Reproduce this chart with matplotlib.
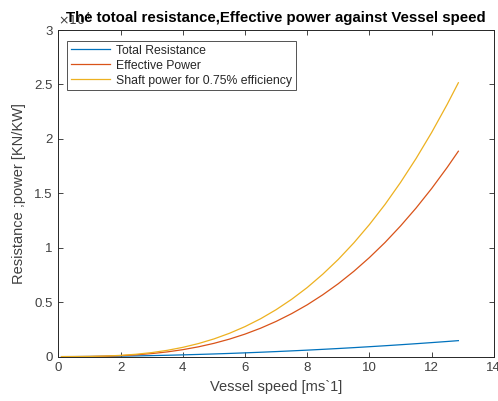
import matplotlib
matplotlib.use("Agg")
import matplotlib.pyplot as plt
from matplotlib.ticker import FuncFormatter, MultipleLocator

# Vessel speed [m/s]
speed = [0.1, 0.5, 1, 1.5, 2, 2.5, 3, 3.5, 4, 4.5, 5, 5.5, 6, 6.5, 7, 7.5,
         8, 8.5, 9, 9.5, 10, 10.5, 11, 11.5, 12, 12.5, 12.86]
# Total resistance [kN]
total_resistance = [0, 3, 12, 25, 43, 65, 92, 124, 160, 200, 244, 292, 345,
                    401, 462, 527, 595, 668, 744, 825, 910, 998, 1091, 1187,
                    1287, 1390, 1467]
# Effective power [kW]
effective_power = [0, 2, 12, 37, 86, 163, 277, 433, 638, 898, 1218, 1607,
                   2068, 2608, 3234, 3950, 4760, 5680, 6700, 7840, 9100,
                   10480, 12000, 13650, 15440, 17380, 18870]
# Shaft power for 0.75 efficiency [kW]
shaft_power = [0, 2, 15, 49, 114, 217, 369, 577, 851, 1197, 1624, 2143,
               2757, 3477, 4312, 5267, 6347, 7573, 8933, 10453, 12133,
               13973, 16000, 18200, 20587, 23173, 25160]

labels = ["Total Resistance", "Effective Power",
          "Shaft power for 0.75% efficiency"]
colors = ["#0072BD", "#D95319", "#EDB120"]

plt.rcParams["font.family"] = ["Liberation Sans", "DejaVu Sans"]
gray = "#262626"
tickgray = "#404040"

fig = plt.figure(figsize=(4.98, 4.01), dpi=100)
ax = fig.add_axes([0.1173, 0.1107, 0.8743, 0.8143])

for y, lab, c in zip([total_resistance, effective_power, shaft_power], labels, colors):
    ax.plot(speed, y, color=c, lw=0.9, label=lab)

ax.set_xlim(0, 14)
ax.set_ylim(0, 30000)
ax.xaxis.set_major_locator(MultipleLocator(2))
ax.yaxis.set_major_locator(MultipleLocator(5000))
ax.yaxis.set_major_formatter(FuncFormatter(lambda v, p: f"{v/1e4:g}"))
ax.tick_params(direction="in", length=3.5, width=0.6, colors=gray,
               labelcolor=tickgray, labelsize=9.5, top=True, right=True, pad=4)
for s in ax.spines.values():
    s.set_color(gray)
    s.set_linewidth(0.7)

ax.set_xlabel("Vessel speed [ms`1]", fontsize=10.5, color=tickgray, labelpad=4)
ax.set_ylabel("Resistance ;power [KN/KW]", fontsize=10.5, color=tickgray, labelpad=6)
ax.text(0.0, 1.006, r"$\times10^{4}$", transform=ax.transAxes, fontsize=9,
        color=tickgray, ha="left", va="bottom")
ax.set_title("The totoal resistance,Effective power against Vessel speed",
             fontsize=10.8, fontweight="bold", color="black", pad=5.5)

leg = ax.legend(loc="upper left", bbox_to_anchor=(0.0, 0.993), fontsize=8.8,
                frameon=True, fancybox=False,
                borderpad=0.3, labelspacing=0.25, handlelength=3.2,
                handletextpad=0.5, borderaxespad=0.7)
leg.get_frame().set_edgecolor(gray)
leg.get_frame().set_linewidth(0.7)
for t in leg.get_texts():
    t.set_color(gray)

fig.savefig("out.png", dpi=100)
